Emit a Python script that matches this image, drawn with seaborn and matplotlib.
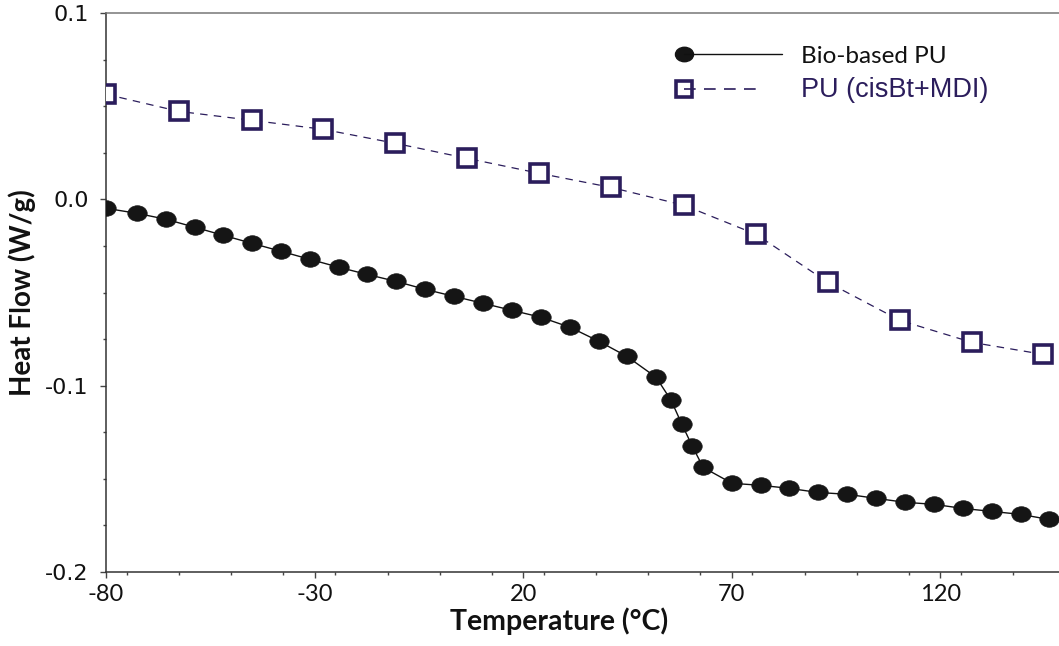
import numpy as np
import pandas as pd
import matplotlib
matplotlib.use("Agg")
import matplotlib.pyplot as plt
import seaborn as sns
from matplotlib.path import Path
from matplotlib.transforms import Affine2D
from matplotlib.legend_handler import HandlerLine2D
from matplotlib.lines import Line2D
from matplotlib.ticker import MultipleLocator, FixedLocator

# ---- data ----
bio_temp = [-80.0, -72.6, -65.6, -58.7, -51.9, -45.0, -38.0, -31.1, -24.1, -17.4,
            -10.5, -3.5, 3.5, 10.4, 17.4, 24.3, 31.3, 38.2, 44.9, 51.9,
            55.5, 58.1, 60.6, 63.2, 70.1, 77.1, 83.8, 90.7, 97.7, 104.7,
            111.6, 118.6, 125.5, 132.5, 139.4, 146.1]
bio_flow = [-0.0048, -0.0075, -0.0107, -0.0150, -0.0193, -0.0236, -0.0279, -0.0322, -0.0365, -0.0403,
            -0.0440, -0.0483, -0.0521, -0.0558, -0.0596, -0.0633, -0.0687, -0.0762, -0.0843, -0.0955,
            -0.1079, -0.1208, -0.1326, -0.1439, -0.1524, -0.1535, -0.1551, -0.1573, -0.1583, -0.1605,
            -0.1626, -0.1637, -0.1659, -0.1675, -0.1691, -0.1718]

pu_temp = [-80.0, -62.5, -45.0, -28.0, -10.7, 6.6, 23.8, 41.1, 58.6, 75.9, 93.1, 110.4, 127.7, 144.7]
pu_flow = [0.0564, 0.0472, 0.0424, 0.0376, 0.0301, 0.0220, 0.0140, 0.0064, -0.0032, -0.0188,
           -0.0446, -0.0650, -0.0768, -0.0832]

x_ticks = [-80, -30, 20, 70, 120]
x_tick_labels = ["-80", "-30", "20", "70", "120"]
y_ticks = [-0.2, -0.1, 0.0, 0.1]
y_tick_labels = ["-0.2", "-0.1", "0.0", "0.1"]
series_names = ["Bio-based PU", "PU (cisBt+MDI)"]

df_bio = pd.DataFrame({"T": bio_temp, "HF": bio_flow})
df_pu = pd.DataFrame({"T": pu_temp, "HF": pu_flow})

sns.set_theme(style="white")
plt.rcParams["font.family"] = ["DejaVu Sans"]
plt.rcParams["axes.unicode_minus"] = False

W, H = 1059, 646
fig = plt.figure(figsize=(W / 100, H / 100), dpi=100)
left, right, top, bottom = 106, 1059, 13, 572
ax = fig.add_axes([left / W, 1 - bottom / H, (right - left) / W, (bottom - top) / H])

navy = "#2b1d5c"
ellipse = Path.unit_circle().transformed(Affine2D().scale(1.0, 0.8))

sns.lineplot(data=df_bio, x="T", y="HF", ax=ax, sort=False, color="#111111",
             linewidth=1.0, marker=ellipse, markersize=14, markerfacecolor="#151515",
             markeredgecolor="#151515", markeredgewidth=0.5, label=series_names[0], zorder=3)
sns.lineplot(data=df_pu, x="T", y="HF", ax=ax, sort=False, color=navy,
             linewidth=0.9, dashes=(6, 5), marker="s", markersize=12.5,
             markerfacecolor="white", markeredgecolor=navy, markeredgewidth=2.6,
             label=series_names[1], zorder=3)

ax.set_xlim(-80, 148.5)
ax.set_ylim(-0.2, 0.1)
ax.xaxis.set_major_locator(FixedLocator(x_ticks))
ax.set_xticklabels(x_tick_labels)
ax.xaxis.set_minor_locator(MultipleLocator(12.5))
ax.yaxis.set_major_locator(FixedLocator(y_ticks))
ax.set_yticklabels(y_tick_labels)
ax.yaxis.set_minor_locator(MultipleLocator(0.025))

for lab in ax.get_xticklabels():
    lab.set_fontfamily("Lato")
    lab.set_fontsize(17)
for lab in ax.get_yticklabels():
    lab.set_fontfamily("DejaVu Sans")
    lab.set_fontsize(16)

ax.tick_params(axis="both", which="major", direction="out", length=4.5, width=1.0,
               color="#444444", labelcolor="#111111", bottom=True, left=True)
ax.tick_params(axis="both", which="minor", direction="out", length=2.5, width=1.0,
               color="#444444", bottom=True, left=True)
ax.tick_params(axis="x", which="major", pad=4)
ax.tick_params(axis="y", which="major", pad=8)

for s in ["left", "bottom", "top"]:
    ax.spines[s].set_visible(True)
    ax.spines[s].set_linewidth(1.1)
ax.spines["left"].set_color("#333333")
ax.spines["bottom"].set_color("#333333")
ax.spines["top"].set_color("#777777")
ax.spines["right"].set_visible(False)

ax.set_xlabel("Temperature (°C)", fontfamily="Lato", fontweight="bold", fontsize=20.5,
              color="#111111")
ax.set_ylabel("Heat Flow (W/g)", fontfamily="Lato", fontweight="bold", fontsize=20,
              color="#111111")
ax.xaxis.set_label_coords(0.475, -0.064)
ax.yaxis.set_label_coords(-0.0735, 0.5)


class LeftMarkerHandler(HandlerLine2D):
    """Legend handle: line over part of the handle box, single marker at its left end."""
    def __init__(self, frac=1.0, **kw):
        super().__init__(**kw)
        self.frac = frac

    def create_artists(self, legend, orig_handle, xdescent, ydescent, width, height,
                       fontsize, trans):
        y = (height - ydescent) / 2
        line = Line2D([-xdescent, -xdescent + width * self.frac], [y, y])
        self.update_prop(line, orig_handle, legend)
        line.set_marker("")
        mk = Line2D([-xdescent], [y])
        self.update_prop(mk, orig_handle, legend)
        mk.set_linestyle("")
        line.set_transform(trans)
        mk.set_transform(trans)
        return [mk, line]


h_bio = Line2D([], [], color="#111111", linewidth=1.0, marker=ellipse, markersize=13,
               markerfacecolor="#151515", markeredgecolor="#151515")
h_pu = Line2D([], [], color=navy, linewidth=1.2, dashes=(7, 5), marker="s", markersize=11,
              markerfacecolor="white", markeredgecolor=navy, markeredgewidth=2.6)
leg = ax.legend([h_bio, h_pu], series_names, loc="upper left",
                bbox_to_anchor=(0.607, 0.941), frameon=False, borderpad=0,
                borderaxespad=0, handlelength=4.0, handletextpad=0.78,
                labelspacing=0.42, fontsize=17.5,
                handler_map={h_bio: LeftMarkerHandler(1.0), h_pu: LeftMarkerHandler(0.74)})
texts = leg.get_texts()
texts[0].set_fontfamily("Lato")
texts[0].set_color("#111111")
texts[0].set_fontsize(17.5)
texts[1].set_fontfamily("Liberation Sans")
texts[1].set_color(navy)
texts[1].set_fontsize(19.5)

fig.savefig("out.png", dpi=100, facecolor="white")
